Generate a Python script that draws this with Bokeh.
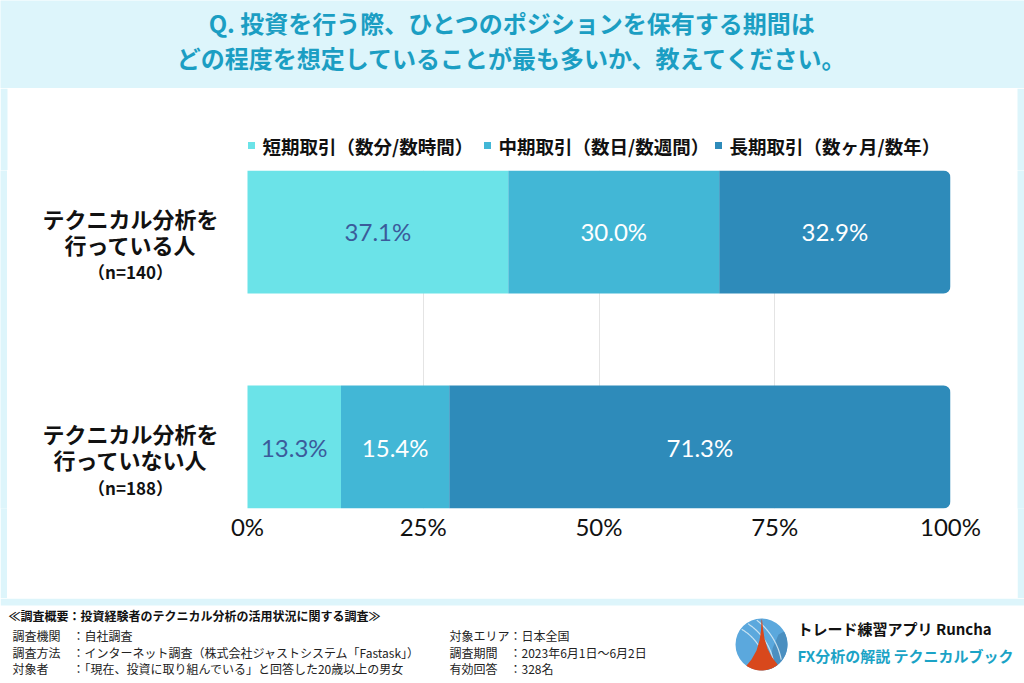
import numpy as np
from bokeh.plotting import figure
from bokeh.layouts import column, row
from bokeh.models import Range1d, FixedTicker, ColumnDataSource
from bokeh.core.properties import value
from bokeh.embed import file_html
from bokeh.resources import INLINE

# ---------------- data ----------------
title_lines = ["Q. 投資を行う際、ひとつのポジションを保有する期間は",
               "どの程度を想定していることが最も多いか、教えてください。"]
group_line1 = ["テクニカル分析を", "テクニカル分析を"]
group_line2 = ["行っている人", "行っていない人"]
group_n = ["（n=140）", "（n=188）"]
group_pos = [1, 0]
series = ["短期取引（数分/数時間）", "中期取引（数日/数週間）", "長期取引（数ヶ月/数年）"]
short_term = [37.1, 13.3]
mid_term = [30.0, 15.4]
long_term = [32.9, 71.3]
colors = ["#6be3e8", "#42b7d6", "#2e8bba"]
label_colors = ["#3b5b9b", "#ffffff", "#ffffff"]
ticks = [0, 25, 50, 75, 100]
tick_labels = ["0%", "25%", "50%", "75%", "100%"]
footer_header = "≪調査概要：投資経験者のテクニカル分析の活用状況に関する調査≫"
footer_left = ["調査機関　：自社調査",
               "調査方法　：インターネット調査（株式会社ジャストシステム「Fastask」）",
               "対象者　　：「現在、投資に取り組んでいる」と回答した20歳以上の男女"]
footer_right = ["対象エリア：日本全国",
                "調査期間　：2023年6月1日〜6月2日",
                "有効回答　：328名"]
brand_lines = ["トレード練習アプリ  Runcha", "FX分析の解説  テクニカルブック"]

JP = value("Noto Sans CJK JP")
NUM = value("Lato")
BG = "#ddf5fb"
TITLE_C = "#1b9ec3"
W = 1024


def deco(w, h, xr, yr, bg):
    f = figure(width=w, height=h, x_range=Range1d(*xr), y_range=Range1d(*yr),
               output_backend="svg", toolbar_location=None,
               x_axis_location=None, y_axis_location=None,
               min_border_left=0, min_border_right=0, min_border_top=0, min_border_bottom=0,
               background_fill_color=bg, border_fill_color=bg, outline_line_color=None)
    f.grid.visible = False
    return f

# ---------------- title band ----------------
tf = deco(W, 88, (0, W), (88, 0), BG)
tf.text(x=[512, 512], y=[22, 57], text=title_lines, text_font=JP, text_font_size="24px",
        text_font_style="bold", text_color=TITLE_C, text_align="center", text_baseline="middle")

# ---------------- legend band ----------------
lf = deco(W, 82, (0, W), (170, 88), "white")
lf.quad(left=[0, 1017], right=[7, W], top=[88, 88], bottom=[170, 170], fill_color=BG, line_color=None)
leg_x = [251, 487, 718]
lf.scatter(x=leg_x, y=[145] * 3, marker="square", size=7, fill_color=colors, line_color=None)
lf.text(x=[x + 11 for x in leg_x], y=[145] * 3, text=series, text_font=JP, text_font_size="18.5px",
        text_font_style="bold", text_color="#111111", text_align="left", text_baseline="middle")

# ---------------- chart (frame widened left to host the category labels) ----------------
panel_left, zero_px, full_px, label_px = 7, 247, 950, 130
px_per_unit = (full_px - zero_px) / 100.0
x_start = -(zero_px - panel_left) / px_per_unit
label_x = -(zero_px - label_px) / px_per_unit

bar_h = 0.572
chart = figure(width=1010, height=428, x_range=Range1d(x_start, 100),
               y_range=Range1d(-bar_h / 2, 1 + bar_h / 2),
               output_backend="svg", toolbar_location=None, y_axis_location=None,
               min_border_left=0, min_border_right=67, min_border_top=0, min_border_bottom=90,
               background_fill_color="white", border_fill_color="white", outline_line_color=None)
chart.xaxis.ticker = FixedTicker(ticks=ticks)
chart.xaxis.major_label_overrides = {t: l for t, l in zip(ticks, tick_labels)}
chart.xaxis.major_label_text_font = "Lato"
chart.xaxis.major_label_text_font_size = "24px"
chart.xaxis.major_label_text_color = "#111111"
chart.xaxis.axis_line_color = None
chart.xaxis.major_tick_line_color = None
chart.xaxis.minor_tick_line_color = None
chart.xaxis.major_tick_in = 0
chart.xaxis.major_tick_out = 0
chart.xaxis.major_label_standoff = 3
chart.xgrid.ticker = FixedTicker(ticks=ticks[1:])
chart.xgrid.grid_line_color = "#e4e4e4"
chart.ygrid.visible = False

left = [0.0, 0.0]
for i, vals in enumerate([short_term, mid_term, long_term]):
    right = [l + v for l, v in zip(left, vals)]
    src = ColumnDataSource(dict(y=group_pos, left=left, right=right,
                                mid=[(l + r) / 2 for l, r in zip(left, right)],
                                txt=[f"{v:.1f}%" for v in vals]))
    chart.hbar(y="y", left="left", right="right", height=bar_h, source=src,
               fill_color=colors[i], line_color=None,
               border_radius=(0, 7, 7, 0) if i == 2 else 0)
    chart.text(x="mid", y="y", text="txt", source=src, text_font=NUM, text_font_size="24px",
               text_color=label_colors[i], text_align="center", text_baseline="middle")
    left = right

# category labels
lx = [label_x] * 2
chart.text(x=lx, y=group_pos, text=group_line1, y_offset=-14, text_font=JP,
           text_font_size="22px", text_font_style="bold", text_color="#111111",
           text_align="center", text_baseline="middle")
chart.text(x=lx, y=group_pos, text=group_line2, y_offset=12, text_font=JP,
           text_font_size="22px", text_font_style="bold", text_color="#111111",
           text_align="center", text_baseline="middle")
chart.text(x=lx, y=group_pos, text=group_n, y_offset=40, text_font=JP,
           text_font_size="17px", text_font_style="bold", text_color="#111111",
           text_align="center", text_baseline="middle")

strip_l = deco(7, 428, (0, 1), (0, 1), BG)
strip_r = deco(7, 428, (0, 1), (0, 1), BG)

# ---------------- footer ----------------
ff = deco(W, 83, (0, W), (681, 598), "white")
ff.quad(left=[0], right=[W], top=[598], bottom=[605], fill_color=BG, line_color=None)
ff.text(x=[8], y=[615], text=[footer_header], text_font=JP, text_font_size="12px",
        text_font_style="bold", text_color="#111111", text_align="left", text_baseline="middle")
ff.text(x=[12] * 3, y=[635, 652, 668], text=footer_left, text_font=JP, text_font_size="12px",
        text_color="#222222", text_align="left", text_baseline="middle")
ff.text(x=[449] * 3, y=[635, 652, 668], text=footer_right, text_font=JP, text_font_size="12px",
        text_color="#222222", text_align="left", text_baseline="middle")

# logo
cx, cy, r = 761, 644, 26
ff.ellipse(x=[cx], y=[cy], width=[2 * r], height=[2 * r], fill_color="#5ba8dd", line_color=None)
ang = np.linspace(np.radians(-30), np.radians(80), 40)
dark_x = list(cx + r * np.cos(ang)) + [770, 772, 778]
dark_y = list(cy + r * np.sin(ang)) + [662, 648, 634]
ff.patch(x=dark_x, y=dark_y, fill_color="#4b8fc0", line_color=None)
for rr in [50, 58, 66]:
    a = np.linspace(-np.pi / 2, 0, 200)
    px = 716 + rr * np.cos(a)
    py = 672 + rr * np.sin(a)
    keep = (px - cx) ** 2 + (py - cy) ** 2 < (r - 1) ** 2
    ff.line(x=px[keep], y=py[keep], line_color="#e4f1f8", line_width=1.2, line_alpha=0.8)
a_l = np.arctan2(665 - cy, 746 - cx)
a_r = np.arctan2(664 - cy, 777 - cx)
bot = np.linspace(a_l, a_r, 20)
spike_x = [761, 760.5, 759, 756, 751] + list(cx + r * np.cos(bot)) + [771, 767, 764, 762.5, 761.5]
spike_y = [619, 630, 640, 650, 659] + list(cy + r * np.sin(bot)) + [656, 648, 638, 628, 619]
ff.patch(x=spike_x, y=spike_y, fill_color="#d8481c", line_color=None)

ff.text(x=[797], y=[628], text=[brand_lines[0]], text_font=JP, text_font_size="15px",
        text_font_style="bold", text_color="#111111", text_align="left", text_baseline="middle")
ff.text(x=[797], y=[655], text=[brand_lines[1]], text_font=JP, text_font_size="15px",
        text_font_style="bold", text_color="#1ba3c6", text_align="left", text_baseline="middle")

layout = column(tf, lf, row(strip_l, chart, strip_r, spacing=0), ff, spacing=0)
open("out.html", "w").write(file_html(layout, INLINE))
